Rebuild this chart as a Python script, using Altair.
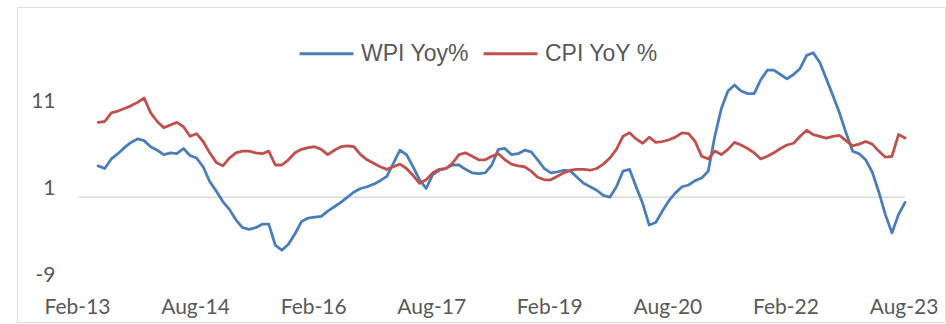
import altair as alt
import pandas as pd

# ---- data (monthly, May-13 .. Aug-23) ----
first_month_index = 3  # months after Feb-13 (May-13)
wpi_yoy = [3.6, 3.3, 4.4, 5.0, 5.7, 6.3, 6.7, 6.5, 5.8, 5.4,
           4.9, 5.1, 5.0, 5.6, 4.8, 4.5, 3.5, 1.8, 0.7, -0.5,
           -1.4, -2.6, -3.5, -3.7, -3.5, -3.1, -3.1, -5.5, -6.1, -5.4,
           -4.2, -2.8, -2.4, -2.3, -2.2, -1.6, -1.1, -0.6, 0.0, 0.6,
           1.0, 1.2, 1.5, 1.9, 2.4, 3.9, 5.4, 4.9, 3.5, 2.0,
           1.0, 2.6, 3.1, 3.3, 3.7, 3.7, 3.2, 2.8, 2.7, 2.8,
           3.7, 5.5, 5.6, 4.9, 5.0, 5.4, 5.2, 4.3, 3.3, 2.8,
           2.9, 3.1, 3.0, 2.3, 1.6, 1.2, 0.8, 0.2, 0.0, 1.2,
           3.0, 3.2, 1.2, -0.7, -3.2, -2.9, -1.6, -0.4, 0.5, 1.2,
           1.4, 1.9, 2.2, 3.0, 7.0, 10.2, 12.2, 12.9, 12.2, 11.9,
           11.9, 13.5, 14.6, 14.6, 14.1, 13.6, 14.1, 14.8, 16.3, 16.6,
           15.5, 13.6, 11.7, 9.7, 7.4, 5.3, 5.0, 4.3, 2.9, 0.6,
           -2.0, -4.1, -2.0, -0.6]
cpi_yoy = [8.6, 8.7, 9.7, 9.9, 10.2, 10.5, 10.9, 11.4, 9.7, 8.7,
           8.0, 8.3, 8.6, 8.1, 7.0, 7.3, 6.4, 5.1, 4.0, 3.6,
           4.5, 5.1, 5.3, 5.3, 5.1, 5.0, 5.3, 3.7, 3.7, 4.3,
           5.1, 5.5, 5.7, 5.8, 5.5, 4.9, 5.4, 5.8, 5.9, 5.8,
           4.9, 4.3, 3.9, 3.5, 3.2, 3.5, 3.8, 3.3, 2.5, 1.6,
           2.0, 2.8, 3.2, 3.3, 3.9, 4.9, 5.1, 4.7, 4.3, 4.3,
           4.7, 5.0, 4.3, 3.8, 3.6, 3.5, 3.0, 2.3, 2.0, 2.0,
           2.4, 2.8, 3.1, 3.2, 3.2, 3.1, 3.3, 3.8, 4.5, 5.5,
           7.0, 7.4, 6.7, 6.2, 6.9, 6.3, 6.4, 6.6, 6.9, 7.4,
           7.3, 6.4, 4.7, 4.4, 5.3, 4.9, 5.5, 6.3, 6.0, 5.6,
           5.1, 4.4, 4.7, 5.1, 5.6, 6.0, 6.2, 7.0, 7.7, 7.2,
           7.0, 6.8, 7.0, 7.1, 6.5, 5.9, 6.1, 6.4, 6.1, 5.3,
           4.6, 4.7, 7.2, 6.8]
series_names = ["WPI Yoy%", "CPI YoY %"]
series_colors = ["#4a7ebb", "#c0504d"]
tick_labels = ["Feb-13", "Aug-14", "Feb-16", "Aug-17", "Feb-19", "Aug-20", "Feb-22", "Aug-23"]
tick_positions = [0, 18, 36, 54, 72, 90, 108, 126]
y_ticks = [-9, 1, 11]

months = list(range(first_month_index, first_month_index + len(wpi_yoy)))
df = pd.DataFrame({
    "m": months + months,
    "v": wpi_yoy + cpi_yoy,
    "series": [series_names[0]] * len(wpi_yoy) + [series_names[1]] * len(cpi_yoy),
})
zero_df = pd.DataFrame({"m": [0], "m2": [months[-1]], "v": [0]})

label_arr = "[" + ",".join("'" + t + "'" for t in tick_labels) + "]"
label_expr = label_arr + "[round(datum.value / 18)]"

xscale = alt.Scale(domain=[-9.375, 132.09], nice=False, zero=False)
yscale = alt.Scale(domain=[-14.345, 21.862], nice=False, zero=False)

axis_font = "Lato"
text_color = "#595959"

zero_rule = alt.Chart(zero_df).mark_rule(color="#d9d9d9", strokeWidth=1.5).encode(
    x=alt.X("m:Q", scale=xscale,
            axis=alt.Axis(values=tick_positions, labelExpr=label_expr, title=None,
                          domain=False, ticks=False, tickSize=0, grid=False,
                          labelPadding=0, offset=-15, labelBaseline="middle",
                          labelOffset=-1.5, labelFont=axis_font, labelFontSize=21,
                          labelColor=text_color, labelOverlap=False, labelFlush=False)),
    x2="m2:Q",
    y=alt.Y("v:Q", scale=yscale,
            axis=alt.Axis(values=y_ticks, labelExpr="'' + datum.value", title=None,
                          domain=False, ticks=False,
                          tickSize=0, grid=False, labelPadding=0, offset=-38,
                          labelFont=axis_font, labelFontSize=21, labelColor=text_color,
                          labelAlign="right", labelBaseline="middle")),
)

lines = alt.Chart(df).mark_line(strokeWidth=2.8, strokeJoin="round", strokeCap="round").encode(
    x=alt.X("m:Q", scale=xscale),
    y=alt.Y("v:Q", scale=yscale),
    color=alt.Color("series:N",
                    scale=alt.Scale(domain=series_names, range=series_colors),
                    sort=series_names,
                    legend=alt.Legend(orient="none", legendX=281, legendY=18,
                                      direction="horizontal", title=None,
                                      symbolType="stroke", symbolSize=2916,
                                      symbolStrokeWidth=3, labelFontSize=23,
                                      labelFont="Liberation Sans", labelColor=text_color,
                                      labelOffset=6, columnPadding=8, padding=0)),
    order=alt.Order("m:Q"),
)

chart = alt.layer(zero_rule, lines).properties(
    width=928, height=315,
    padding={"left": 17, "top": 7, "right": 1, "bottom": 2},
).configure_view(stroke="#d9d9d9", strokeWidth=1).configure(background="white")

chart.save("out.html", embed_options={"renderer": "svg", "actions": False})
